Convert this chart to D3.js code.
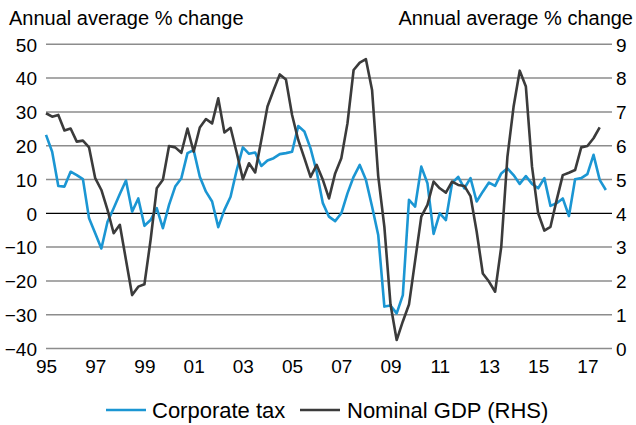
<!DOCTYPE html>
<html>
<head>
<meta charset="utf-8">
<script src="https://cdn.jsdelivr.net/npm/d3@7"></script>
<style>
  html, body { margin: 0; padding: 0; background: #fff; }
  svg text { font-family: "Liberation Sans", Arial, sans-serif; fill: #000; }
</style>
</head>
<body>
<svg id="chart" width="636" height="425"></svg>
<script>
// ---- Data (quarterly, starting 1995 Q1) ----
const startYear = 1995;
const corporateTax = [
  23.2, 18.2, 8.1, 7.9, 12.3, 11.3, 10.1, -1.5, -5.9, -10.4,
  -2.5, 1.5, 5.7, 9.7, 0.5, 4.4, -3.7, -2.0, 1.5, -4.4,
  2.5, 7.9, 10.4, 17.8, 18.7, 10.8, 6.4, 3.5, -4.1, 1.0,
  4.9, 12.8, 19.5, 17.6, 18.0, 14.0, 15.6, 16.3, 17.5, 17.8,
  18.2, 25.8, 24.2, 19.2, 12.3, 3.0, -1.0, -2.3, 0.0, 5.9,
  10.8, 14.3, 9.9, 2.0, -6.4, -27.6, -27.3, -29.6, -24.2, 4.0,
  2.0, 13.8, 8.9, -6.1, 0.0, -2.0, 8.9, 10.8, 7.4, 10.4,
  3.5, 6.4, 9.1, 8.1, 11.8, 13.3, 11.3, 8.7, 11.0, 8.7,
  7.4, 10.4, 2.2, 3.0, 4.4, -0.8, 10.1, 10.4, 11.6, 17.3,
  9.9, 6.9
];
const nominalGDP = [
  6.96, 6.86, 6.91, 6.45, 6.51, 6.12, 6.15, 5.95, 5.04, 4.69,
  4.10, 3.41, 3.66, 2.62, 1.58, 1.83, 1.90, 3.21, 4.74, 4.99,
  5.99, 5.95, 5.79, 6.51, 5.82, 6.54, 6.79, 6.66, 7.40, 6.39,
  6.53, 5.79, 5.01, 5.48, 5.21, 6.17, 7.16, 7.65, 8.11, 7.96,
  6.91, 6.17, 5.63, 5.08, 5.43, 4.99, 4.44, 5.18, 5.63, 6.66,
  8.24, 8.46, 8.56, 7.65, 5.10, 3.60, 1.30, 0.25, 0.80, 1.30,
  2.60, 3.90, 4.25, 4.94, 4.74, 4.61, 4.94, 4.84, 4.81, 4.51,
  3.46, 2.22, 1.98, 1.68, 3.01, 5.67, 7.15, 8.22, 7.75, 5.38,
  4.00, 3.49, 3.60, 4.39, 5.13, 5.20, 5.28, 5.95, 5.99, 6.22,
  6.54
];
const leftTicks = [-40, -30, -20, -10, 0, 10, 20, 30, 40, 50];
const rightTicks = [0, 1, 2, 3, 4, 5, 6, 7, 8, 9];
const xTickYears = [1995, 1997, 1999, 2001, 2003, 2005, 2007, 2009, 2011, 2013, 2015, 2017];
const xTickLabels = ["95", "97", "99", "01", "03", "05", "07", "09", "11", "13", "15", "17"];
const seriesNames = ["Corporate tax", "Nominal GDP (RHS)"];
const axisTitle = "Annual average % change";

// ---- Layout ----
const W = 636, H = 425;
const plot = { left: 46, right: 612, top: 44.3, bottom: 348.5 };
const blue = "#1b96d3", dark = "#3b3b3b";

const svg = d3.select("#chart");

const x = d3.scaleLinear().domain([1995, 2018]).range([plot.left, plot.right]);
const yL = d3.scaleLinear().domain([-40, 50]).range([plot.bottom, plot.top]);
const yR = d3.scaleLinear().domain([0, 9]).range([plot.bottom, plot.top]);

const qx = i => x(startYear + i / 4);

// gridlines
svg.append("g").selectAll("line").data(leftTicks).join("line")
  .attr("x1", plot.left).attr("x2", plot.right)
  .attr("y1", d => yL(d)).attr("y2", d => yL(d))
  .attr("stroke", d => d === 0 ? "#000" : "#8c8c8c")
  .attr("stroke-width", d => d === 0 ? 1.3 : 1.5);

const tickFont = 19;

// left axis labels
const leftAxis = d3.axisLeft(yL).tickValues(leftTicks).tickSize(0).tickPadding(0);
const gL = svg.append("g").attr("transform", `translate(${plot.left - 9},0)`).call(leftAxis);
gL.select(".domain").remove();
gL.selectAll("text").attr("font-size", tickFont).attr("dy", "0.36em")
  .attr("font-family", "Liberation Sans, Arial, sans-serif").attr("fill", "#000");

// right axis labels
const rightAxis = d3.axisRight(yR).tickValues(rightTicks).tickSize(0).tickPadding(0);
const gR = svg.append("g").attr("transform", `translate(${plot.right + 4},0)`).call(rightAxis);
gR.select(".domain").remove();
gR.selectAll("text").attr("font-size", tickFont).attr("dy", "0.36em")
  .attr("font-family", "Liberation Sans, Arial, sans-serif").attr("fill", "#000");

// x axis labels
const xAxis = d3.axisBottom(x).tickValues(xTickYears)
  .tickFormat((d, i) => xTickLabels[i]).tickSize(0).tickPadding(0);
const gX = svg.append("g").attr("transform", `translate(0,${plot.bottom + 10})`).call(xAxis);
gX.select(".domain").remove();
gX.selectAll("text").attr("font-size", tickFont).attr("dy", "0.75em")
  .attr("font-family", "Liberation Sans, Arial, sans-serif").attr("fill", "#000");

// axis titles
svg.append("text").attr("x", 9).attr("y", 25).attr("font-size", 20).text(axisTitle);
svg.append("text").attr("x", 633).attr("y", 25).attr("font-size", 20)
  .attr("text-anchor", "end").text(axisTitle);

// lines
const lineL = d3.line().x((d, i) => qx(i)).y(d => yL(d));
const lineR = d3.line().x((d, i) => qx(i)).y(d => yR(d));

svg.append("path").datum(corporateTax).attr("d", lineL)
  .attr("fill", "none").attr("stroke", blue).attr("stroke-width", 2.6)
  .attr("stroke-linejoin", "round");
svg.append("path").datum(nominalGDP).attr("d", lineR)
  .attr("fill", "none").attr("stroke", dark).attr("stroke-width", 2.6)
  .attr("stroke-linejoin", "round");

// legend
const legend = [
  { name: seriesNames[0], color: blue, x0: 106, x1: 146, tx: 152 },
  { name: seriesNames[1], color: dark, x0: 300, x1: 340, tx: 347 }
];
const ly = 410;
const lg = svg.append("g");
legend.forEach(l => {
  lg.append("line").attr("x1", l.x0).attr("x2", l.x1).attr("y1", ly).attr("y2", ly)
    .attr("stroke", l.color).attr("stroke-width", 2.6);
  lg.append("text").attr("x", l.tx).attr("y", ly).attr("dy", "0.36em")
    .attr("font-size", 22).text(l.name);
});
</script>
</body>
</html>
